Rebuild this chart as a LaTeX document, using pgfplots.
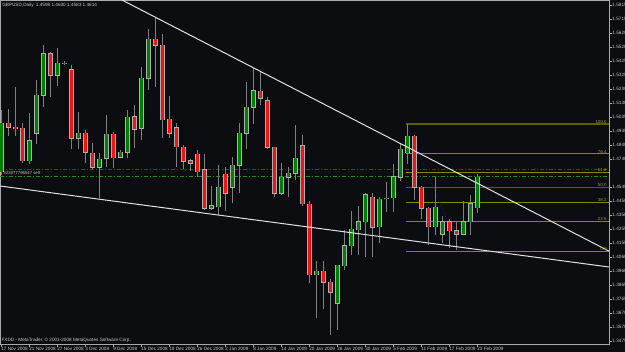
\documentclass[border=0pt]{standalone}
\usepackage{pgfplots}
\pgfplotsset{compat=1.18}
\usepackage{pgfplotstable}
\usepackage{fontspec}
\setmainfont{Liberation Sans}
\definecolor{bg}{RGB}{12,13,16}
\definecolor{frame}{RGB}{170,170,170}
\definecolor{labelc}{RGB}{200,200,200}
\definecolor{wick}{RGB}{128,128,128}
\definecolor{outline}{RGB}{175,175,175}
\definecolor{bull}{RGB}{0,128,0}
\definecolor{bear}{RGB}{240,20,20}
\definecolor{fib}{RGB}{135,135,0}
\definecolor{fibdark}{RGB}{95,95,0}
\definecolor{fibtxt}{RGB}{160,160,20}
\definecolor{trend}{RGB}{225,225,225}
\definecolor{reddash}{RGB}{160,20,20}
\definecolor{greendash}{RGB}{30,140,30}
\definecolor{navyline}{RGB}{25,25,120}

\pgfplotstableread{
i o h l c
0 1.4655 1.5084 1.4632 1.4992
4 1.4731 1.5063 1.4708 1.4871
5 1.4922 1.5293 1.4848 1.5187
6 1.5187 1.5537 1.5107 1.5474
8 1.5326 1.5514 1.5251 1.5409
9 1.5409 1.5425 1.5397 1.5410
11 1.4887 1.5072 1.4811 1.4922
14 1.4685 1.4785 1.4472 1.4741
15 1.4748 1.5049 1.4690 1.4917
17 1.4755 1.4806 1.4748 1.4790
18 1.4790 1.5084 1.4748 1.5033
20 1.4957 1.5380 1.4875 1.5305
21 1.5305 1.5646 1.5223 1.5578
30 1.4400 1.4557 1.4388 1.4416
31 1.4411 1.4701 1.4353 1.4546
33 1.4546 1.4759 1.4435 1.4701
34 1.4701 1.4992 1.4509 1.4922
35 1.4922 1.5281 1.4811 1.5103
36 1.5103 1.5374 1.4985 1.5219
40 1.4504 1.4713 1.4493 1.4616
41 1.4616 1.4690 1.4481 1.4644
42 1.4644 1.4980 1.4597 1.4748
45 1.3936 1.4035 1.3634 1.3962
48 1.3739 1.4005 1.3553 1.4003
49 1.4001 1.4249 1.3971 1.4138
50 1.4138 1.4381 1.4075 1.4254
51 1.4249 1.4416 1.4075 1.4305
52 1.4307 1.4505 1.4063 1.4493
54 1.4272 1.4481 1.4161 1.4463
55 1.4468 1.4585 1.4376 1.4470
56 1.4474 1.4708 1.4376 1.4620
57 1.4616 1.4857 1.4592 1.4811
58 1.4787 1.4987 1.4708 1.4903
62 1.4272 1.4616 1.4214 1.4407
63 1.4219 1.4346 1.4156 1.4305
66 1.4219 1.4453 1.4214 1.4305
67 1.4305 1.4493 1.4214 1.4430
68 1.4404 1.4639 1.4369 1.4616
}\up

\pgfplotstableread{
i o h l c
1 1.4992 1.5091 1.4903 1.4964
2 1.4964 1.5246 1.4903 1.4952
3 1.4957 1.4994 1.4717 1.4731
7 1.5474 1.5488 1.5177 1.5326
10 1.5363 1.5397 1.4811 1.4887
12 1.4922 1.4945 1.4713 1.4790
13 1.4783 1.4855 1.4672 1.4685
16 1.4917 1.4931 1.4683 1.4752
19 1.5036 1.5119 1.4818 1.4950
22 1.5576 1.5722 1.5246 1.5535
23 1.5535 1.5613 1.4887 1.5015
24 1.5020 1.5182 1.4887 1.4922
25 1.4961 1.4992 1.4690 1.4829
26 1.4825 1.4841 1.4672 1.4729
27 1.4731 1.4741 1.4662 1.4713
28 1.4776 1.4806 1.4620 1.4655
29 1.4667 1.4778 1.4388 1.4400
32 1.4637 1.4690 1.4383 1.4504
37 1.5216 1.5351 1.5119 1.5166
38 1.5147 1.5173 1.4811 1.4825
39 1.4825 1.4829 1.4477 1.4504
43 1.4836 1.4910 1.4416 1.4430
44 1.4428 1.4451 1.3878 1.3936
46 1.3962 1.4035 1.3697 1.3885
47 1.3885 1.3906 1.3518 1.3815
53 1.4477 1.4505 1.4063 1.4268
59 1.4903 1.4910 1.4458 1.4546
60 1.4546 1.4555 1.4323 1.4400
61 1.4400 1.4411 1.4145 1.4272
64 1.4305 1.4323 1.4122 1.4244
65 1.4244 1.4307 1.4110 1.4219
}\down

\pgfplotsset{
  candlebar/.style n args={2}{draw=none, mark=none, forget plot,
    error bars/.cd, y dir=plus, y explicit, error mark=none,
    error bar style={draw=#1, line width=#2, solid}},
}

\begin{document}
\begin{tikzpicture}[x=1pt,y=1pt]
\fill[bg] (0,-6) rectangle (468.75,258);
\useasboundingbox (0,-6) rectangle (468.75,258);
\begin{axis}[
  at={(0pt,0pt)}, anchor=south west,
  scale only axis, width=456.75pt, height=258pt,
  xmin=-0.186, xmax=86.81, ymin=1.34556, ymax=1.58498,
  axis line style={draw=frame, line width=0.6pt},
  xtick pos=left, ytick pos=right, yticklabel pos=right,
  tick align=outside, major tick length=2pt,
  every tick/.style={draw=frame, line width=0.5pt},
  xtick={0,4,...,68},
  xticklabels={17 Nov 2008,21 Nov 2008,27 Nov 2008,3 Dec 2008,9 Dec 2008,15 Dec 2008,19 Dec 2008,26 Dec 2008,2 Jan 2009,8 Jan 2009,14 Jan 2009,20 Jan 2009,26 Jan 2009,30 Jan 2009,5 Feb 2009,11 Feb 2009,17 Feb 2009,23 Feb 2009},
  ytick={1.5815,1.57176,1.56201,1.55227,1.54252,1.53278,1.52304,1.51329,1.50355,1.4938,1.48406,1.47432,1.45483,1.44508,1.43534,1.4256,1.41585,1.40611,1.39636,1.38662,1.37688,1.36713,1.35739,1.34764},
  yticklabels={1.5815,1.5715,1.5620,1.5520,1.5425,1.5325,1.5230,1.5130,1.5035,1.4935,1.4840,1.4740,1.4545,1.4450,1.4350,1.4255,1.4155,1.4060,1.3960,1.3865,1.3765,1.3670,1.3570,1.3475},
  tick label style={font=\fontsize{3.5}{4}\selectfont, text=labelc, inner sep=0.4pt},
  xticklabel style={anchor=north west, xshift=-0.6pt},
  yticklabel style={anchor=west},
  clip=true,
]
% fibonacci levels
\addplot[fibdark, line width=1.3pt] coordinates {(57.81,1.4987) (86.81,1.4987)};
\addplot[fib, line width=0.7pt] coordinates {(57.81,1.47782) (86.81,1.47782)};
\addplot[fib, line width=0.7pt] coordinates {(57.81,1.46491) (86.81,1.46491)};
\addplot[fibdark, line width=1.3pt] coordinates {(57.81,1.45448) (86.81,1.45448)};
\addplot[fib, line width=0.7pt] coordinates {(57.81,1.44405) (86.81,1.44405)};
\addplot[fib, line width=0.7pt] coordinates {(57.81,1.43114) (86.81,1.43114)};
\addplot[fib, line width=0.7pt] coordinates {(57.81,1.41028) (86.81,1.41028)};
\addplot[navyline, line width=0.6pt, densely dotted] coordinates {(57.81,1.4987) (65.53,1.41098)};
% order lines
\addplot[reddash, line width=0.6pt, dash pattern=on 3pt off 1.5pt on 0.75pt off 1.5pt] coordinates {(-0.186,1.46715) (86.81,1.46715)};
\addplot[greendash, line width=0.6pt, dash pattern=on 3pt off 1.5pt on 0.75pt off 1.5pt] coordinates {(-0.186,1.46228) (86.81,1.46228)};
% wicks
\addplot[candlebar={wick}{0.75pt}]
  table[x=i, y=l, y error plus expr=\thisrow{h}-\thisrow{l}] {\up};
\addplot[candlebar={wick}{0.75pt}]
  table[x=i, y=l, y error plus expr=\thisrow{h}-\thisrow{l}] {\down};
% bodies: outline
\addplot[candlebar={outline}{3.75pt}]
  table[x=i, y expr=\thisrow{o}-0.00035, y error plus expr=\thisrow{c}-\thisrow{o}+0.0007] {\up};
\addplot[candlebar={outline}{3.75pt}]
  table[x=i, y expr=\thisrow{c}-0.00035, y error plus expr=\thisrow{o}-\thisrow{c}+0.0007] {\down};
% bodies: fill
\addplot[candlebar={bull}{2.4pt}]
  table[x=i, y=o, y error plus expr=\thisrow{c}-\thisrow{o}] {\up};
\addplot[candlebar={bear}{2.4pt}]
  table[x=i, y=c, y error plus expr=\thisrow{o}-\thisrow{c}] {\down};
% trend lines
\addplot[trend, line width=0.75pt] coordinates {(14.1,1.59284) (86.81,1.41021)};
\addplot[trend, line width=0.75pt] coordinates {(-0.186,1.45552) (86.81,1.39915)};
% texts
\node[anchor=west, text=labelc, font=\fontsize{3.5}{4}\selectfont, inner sep=0pt] at (axis cs:0.1,1.5815) {GBPUSD,Daily\enspace 1.4598 1.4630 1.4583 1.4614};
\node[anchor=west, text=labelc, font=\fontsize{3.5}{4}\selectfont, inner sep=0pt] at (axis cs:0.0,1.34834) {FXDD - MetaTrader, © 2001-2008 MetaQuotes Software Corp.};
\node[anchor=west, text=labelc, font=\fontsize{3.2}{4}\selectfont, inner sep=0pt] at (axis cs:0.3,1.46450) {\#23077796547 sell};
\node[anchor=south east, text=fibtxt, font=\fontsize{3.3}{4}\selectfont, inner sep=0.3pt] at (axis cs:86.55,1.4987) {100.0};
\node[anchor=south east, text=fibtxt, font=\fontsize{3.3}{4}\selectfont, inner sep=0.3pt] at (axis cs:86.55,1.47782) {76.4};
\node[anchor=south east, text=fibtxt, font=\fontsize{3.3}{4}\selectfont, inner sep=0.3pt] at (axis cs:86.55,1.46491) {61.8};
\node[anchor=south east, text=fibtxt, font=\fontsize{3.3}{4}\selectfont, inner sep=0.3pt] at (axis cs:86.55,1.45448) {50.0};
\node[anchor=south east, text=fibtxt, font=\fontsize{3.3}{4}\selectfont, inner sep=0.3pt] at (axis cs:86.55,1.44405) {38.2};
\node[anchor=south east, text=fibtxt, font=\fontsize{3.3}{4}\selectfont, inner sep=0.3pt] at (axis cs:86.55,1.43114) {23.6};
\node[anchor=south east, text=fibtxt, font=\fontsize{3.3}{4}\selectfont, inner sep=0.3pt] at (axis cs:86.55,1.41028) {0.0};
\node[anchor=west, fill=labelc, text=black, font=\fontsize{3.5}{4}\selectfont, inner sep=0.5pt, minimum height=5.5pt] at (axis cs:86.81,1.4625) {\,1.4624};
\end{axis}
\end{tikzpicture}
\end{document}
